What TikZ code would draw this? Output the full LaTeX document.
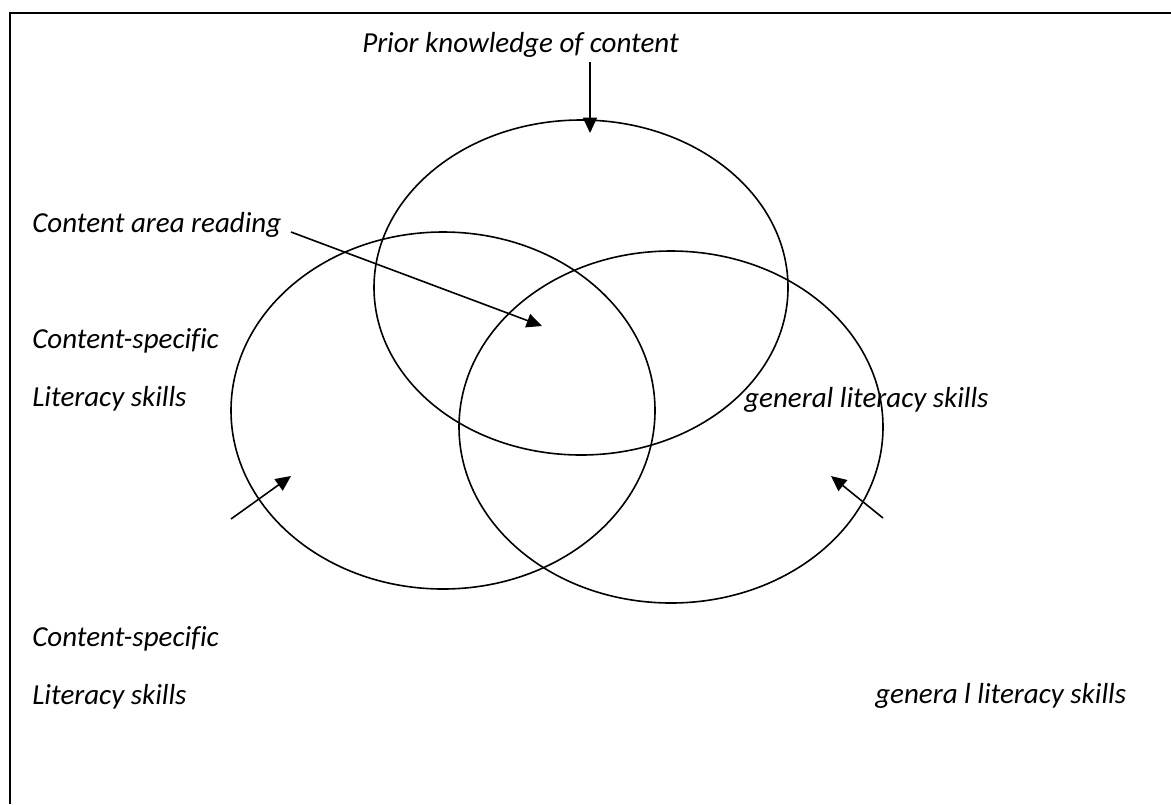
\documentclass[tikz,border=0pt]{standalone}
\usepackage{fontspec}
\setmainfont{Carlito}[Ligatures=NoCommon]
\usetikzlibrary{arrows.meta}
\begin{document}
\begin{tikzpicture}[x=0.75pt,y=-0.75pt,
  lbl/.style={anchor=base west, inner sep=0pt, font=\fontsize{21.75}{26}\selectfont\itshape},
  ring/.style={draw, line width=1.2pt},
  arr/.style={line width=1.2pt, -{Triangle[length=11.5pt,width=10.5pt]}}]
\useasboundingbox (0,0) rectangle (1171,804);
\draw[line width=1.7pt] (10,804) -- (10,13) -- (1171,13);
% circles
\draw[ring] (581,287.5) ellipse [x radius=207, y radius=167.5];
\draw[ring] (443,410.5) ellipse [x radius=212, y radius=178.5];
\draw[ring] (671,427) ellipse [x radius=212, y radius=176];
% labels
\node[lbl] (prior) at (362,52) {Prior knowledge of content};
\node[lbl] (car) at (32,232) {Content area reading};
\node[lbl] (cs1) at (32,348) {Content-specific};
\node[lbl] (ls1) at (32,406) {Literacy skills};
\node[lbl] (gls1) at (744,407) {general literacy skills};
\node[lbl] (cs2) at (32,646) {Content-specific};
\node[lbl] (ls2) at (32,704) {Literacy skills};
\node[lbl] (gls2) at (875,703) {genera l literacy skills};
% arrow endpoints
\coordinate (p0) at (590,62);
\coordinate (p1) at (590,133);
\coordinate (c0) at (291,232);
\coordinate (c1) at (542,326);
\coordinate (l0) at (231,519);
\coordinate (l1) at (291,476);
\coordinate (r0) at (883,518);
\coordinate (r1) at (831,476);
\draw[arr] (p0) -- (p1);
\draw[arr] (c0) -- (c1);
\draw[arr] (l0) -- (l1);
\draw[arr] (r0) -- (r1);
\end{tikzpicture}
\end{document}
